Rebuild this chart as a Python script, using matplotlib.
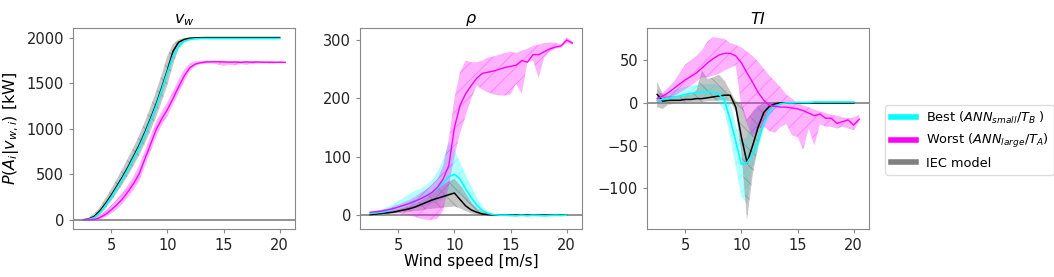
import numpy as np
import matplotlib
matplotlib.use("Agg")
import matplotlib.pyplot as plt
from matplotlib.lines import Line2D

nan = np.nan
wind = [2.5, 3, 3.5, 4, 4.5, 5, 5.5, 6, 6.5, 7, 7.5, 8, 8.5, 9, 9.5, 10, 10.5, 11, 11.5, 12,
        12.5, 13, 13.5, 14, 14.5, 15, 15.5, 16, 16.5, 17, 17.5, 18, 18.5, 19, 19.5, 20, 20.5]

# ---- panel v_w ----
vw_iec = [0, 10, 40, 100, 180, 270, 370, 470, 580, 700, 820, 960, 1110, 1270, 1450, 1640, 1850, 1950, 1980, 1993,
          1997, 1999, 2000, 2000, 2000, 2000, 2000, 2000, 2000, 2000, 2000, 2000, 2000, 2000, 2000, 2000, nan]
vw_iec_lo = [0, 0, 15, 60, 130, 210, 300, 390, 490, 600, 710, 840, 980, 1130, 1300, 1480, 1700, 1880, 1950, 1980,
             1990, 1994, 1995, 1995, 1995, 1995, 1995, 1995, 1995, 1995, 1995, 1995, 1995, 1995, 1995, 1995, nan]
vw_iec_hi = [5, 25, 70, 140, 240, 340, 450, 560, 680, 800, 930, 1080, 1240, 1410, 1600, 1800, 1930, 1980, 1995, 2003,
             2005, 2005, 2005, 2005, 2005, 2005, 2005, 2005, 2005, 2005, 2005, 2005, 2005, 2005, 2005, 2005, nan]
vw_best = [0, 5, 25, 80, 160, 250, 350, 450, 560, 680, 800, 940, 1090, 1250, 1430, 1620, 1800, 1910, 1960, 1980,
           1987, 1990, 1990, 1990, 1990, 1990, 1990, 1990, 1990, 1990, 1990, 1990, 1990, 1990, 1990, 1990, nan]
vw_best_lo = [0, 0, 10, 55, 125, 210, 305, 400, 505, 620, 740, 875, 1020, 1180, 1360, 1550, 1740, 1870, 1940, 1970,
              1980, 1984, 1985, 1985, 1985, 1985, 1985, 1985, 1985, 1985, 1985, 1985, 1985, 1985, 1985, 1985, nan]
vw_best_hi = [3, 15, 45, 105, 195, 290, 395, 500, 615, 740, 860, 1005, 1160, 1320, 1500, 1690, 1860, 1950, 1980, 1990,
              1994, 1995, 1995, 1995, 1995, 1995, 1995, 1995, 1995, 1995, 1995, 1995, 1995, 1995, 1995, 1995, nan]
vw_worst = [0, 0, 5, 25, 60, 110, 165, 230, 310, 400, 510, 670, 830, 990, 1110, 1210, 1330, 1460, 1580, 1670,
            1710, 1725, 1733, 1735, 1735, 1733, 1730, 1732, 1728, 1733, 1730, 1732, 1730, 1730, 1728, 1730, 1728]
vw_worst_lo = [0, 0, 0, 5, 30, 70, 115, 175, 250, 330, 430, 590, 750, 910, 1040, 1140, 1260, 1390, 1520, 1630,
               1690, 1710, 1715, 1715, 1705, 1690, 1700, 1695, 1710, 1700, 1712, 1715, 1715, 1715, 1715, 1718, 1718]
vw_worst_hi = [0, 5, 20, 55, 100, 160, 225, 300, 385, 480, 600, 760, 920, 1080, 1190, 1290, 1410, 1540, 1650, 1720,
               1740, 1745, 1748, 1748, 1745, 1745, 1742, 1745, 1740, 1745, 1742, 1742, 1740, 1740, 1738, 1740, 1735]

# ---- panel rho ----
rho_iec = [1, 2, 3, 4, 5, 7, 9, 11, 14, 18, 22, 26, 29, 32, 35, 38, 27, 16, 9, 5,
           2, 1, 0.5, 0, 0, 0, 0, 0, 0, 0, 0, 0, 0, 0, 0, 0, nan]
rho_iec_lo = [0, 0, 1, 2, 3, 4, 5, 6, 7, 8, 10, 11, 12, 13, 14, 15, 12, 7, 3, 1,
              0, 0, 0, 0, 0, 0, 0, 0, 0, 0, 0, 0, 0, 0, 0, 0, nan]
rho_iec_hi = [2, 3, 5, 6, 8, 10, 13, 16, 20, 25, 30, 38, 45, 52, 58, 62, 52, 38, 22, 12,
              6, 3, 1, 0.5, 0.3, 0.3, 0.3, 0.3, 0.3, 0.3, 0.3, 0.3, 0.3, 0.3, 0.3, 0.3, nan]
rho_best = [3, 4, 5, 7, 10, 14, 17, 21, 25, 29, 34, 39, 46, 55, 66, 70, 62, 45, 30, 17,
            8, 3, 1, 0, 0, -0.5, -1, 0, -1, 0, -0.5, -1, -0.5, 0, -0.5, 0, nan]
rho_best_lo = [0, 1, 2, 3, 4, 6, 8, 10, 12, 14, 17, 20, 23, 28, 35, 40, 35, 25, 15, 7,
               2, 0, 0, -1, -1, -2, -2, -1, -2, -1, -2, -2, -2, -1, -2, -1, nan]
rho_best_hi = [5, 7, 10, 14, 18, 24, 30, 36, 42, 45, 52, 60, 75, 95, 125, 112, 90, 70, 50, 30,
               15, 6, 2, 0.5, 0.5, 0.5, 0.5, 0.5, 0.5, 0.5, 0.5, 0.5, 0.5, 0.5, 0.5, 0.5, nan]
rho_worst = [5, 6, 7, 9, 11, 14, 17, 20, 24, 28, 33, 39, 48, 62, 85, 150, 188, 208, 222, 235,
             243, 245, 247, 250, 253, 255, 257, 265, 262, 275, 275, 280, 285, 288, 290, 300, 295]
rho_worst_lo = [2, 2, 3, 3, 3, 3, 2, 0, -3, -6, -8, -8, -6, 8, 50, 100, 140, 170, 200, 222,
                215, 210, 207, 205, 205, 207, 225, 208, 262, 265, 235, 270, 280, 285, 287, 295, 292]
rho_worst_hi = [5, 7, 9, 11, 14, 18, 22, 26, 32, 38, 44, 52, 62, 85, 130, 200, 245, 265, 262, 262,
                265, 270, 272, 275, 278, 280, 278, 282, 285, 290, 292, 295, 296, 295, 292, 305, 298]

# ---- panel TI ----
ti_iec = [10, 2, 3, 3, 3, 4, 4, 5, 5, 6, 7, 8, 9, 9, -5, -40, -70, -50, -28, -11,
          -4, -1, 0, 0, 0, 0, 0, 0, 0, 0, 0, 0, 0, 0, 0, 0, nan]
ti_iec_lo = [-5, -7, -2, -1, 0, 0, 1, 1, 1, 2, 2, 3, 3, 2, -10, -60, -137, -85, -50, -22,
             -8, -3, -1, -0.5, 0, 0, 0, 0, 0, 0, 0, 0, 0, 0, 0, 0, nan]
ti_iec_hi = [25, 10, 8, 8, 8, 9, 10, 15, 38, 28, 30, 33, 26, 14, 2, 0, -20, -10, -3, -1,
             0, 0, 0.5, 0.5, 0.5, 0.5, 0.5, 0.5, 0.5, 0.5, 0.5, 0.5, 0.5, 0.5, 0.5, 0.5, nan]
ti_best = [3, 4, 5, 7, 8, 10, 11, 12, 13, 13, 12, 10, 3, -20, -45, -72, -70, -60, -45, -24,
           -10, -4, -1, 0, 0, 0.5, 0.5, 0.5, 1, 1, 1, 1, 1, 1, 1, 1, nan]
ti_best_lo = [0, 0, 1, 2, 3, 4, 5, 6, 7, 7, 5, 0, -10, -40, -75, -110, -118, -75, -55, -30,
              -15, -6, -2, -1, -0.5, 0, 0, 0, 0.5, 0.5, 0.5, 0.5, 0.5, 0.5, 0.5, 0.5, nan]
ti_best_hi = [8, 10, 12, 15, 17, 19, 20, 21, 22, 22, 22, 20, 15, 0, -25, -45, -40, -15, -8, -3,
              -1, 0, 0, 0.5, 1, 1, 1, 1, 1.5, 1.5, 1.5, 1.5, 1.5, 1.5, 1.5, 1.5, nan]
ti_worst = [5, 8, 12, 17, 22, 27, 31, 35, 41, 47, 52, 56, 58, 58, 55, 47, 35, 24, 12, 3,
            -3, -4, -5, -5, -6, -7, -9, -12, -15, -13, -18, -18, -24, -22, -20, -26, -19]
ti_worst_lo = [0, 2, 5, 8, 12, 16, 20, 25, 30, 30, 32, 34, 38, 41, 44, -5, -25, -40, -30, -28,
               -33, -35, -28, -25, -38, -40, -55, -30, -50, -25, -28, -28, -30, -28, -30, -32, -22]
ti_worst_hi = [10, 12, 18, 25, 35, 45, 50, 55, 62, 72, 77, 76, 75, 70, 68, 65, 60, 55, 48, 40,
               32, 25, 18, 10, 5, 0, -3, -5, -8, -10, -12, -14, -15, -17, -18, -17, -14]

titles = ['$v_w$', r'$\rho$', '$TI$']
labels = [r'Best ($ANN_{small}/T_B$ )', r'Worst ($ANN_{large}/T_A$)', 'IEC model']

panels = [
    (vw_iec, vw_iec_lo, vw_iec_hi, vw_best, vw_best_lo, vw_best_hi, vw_worst, vw_worst_lo, vw_worst_hi),
    (rho_iec, rho_iec_lo, rho_iec_hi, rho_best, rho_best_lo, rho_best_hi, rho_worst, rho_worst_lo, rho_worst_hi),
    (ti_iec, ti_iec_lo, ti_iec_hi, ti_best, ti_best_lo, ti_best_hi, ti_worst, ti_worst_lo, ti_worst_hi),
]

plt.rcParams['hatch.linewidth'] = 0.6
fig = plt.figure(figsize=(10.54, 2.77), dpi=100)
lefts = [0.0693, 0.3416, 0.6139]
x = np.array(wind)
for i, (iec, iec_lo, iec_hi, best, best_lo, best_hi, worst, worst_lo, worst_hi) in enumerate(panels):
    ax = fig.add_axes([lefts[i], 0.1733, 0.2110, 0.7256])
    ax.axhline(0, color='gray', lw=1.2, zorder=0)
    ax.fill_between(x, best_lo, best_hi, facecolor='cyan', edgecolor='cyan', alpha=0.3, hatch='//', lw=0)
    ax.fill_between(x, iec_lo, iec_hi, facecolor='gray', edgecolor='dimgray', alpha=0.45, hatch='\\\\', lw=0)
    ax.fill_between(x, worst_lo, worst_hi, facecolor='magenta', edgecolor='magenta', alpha=0.3, hatch='//', lw=0)
    ax.plot(x, iec, color='black', lw=1.1)
    ax.plot(x, best, color='cyan', lw=1.2)
    ax.plot(x, worst, color='magenta', lw=1.0)
    ax.set_title(titles[i], fontsize=11.5, pad=3)
    ax.set_xticks([5, 10, 15, 20])
    ax.tick_params(labelsize=10.5, colors='#222222', length=3)
    for sp in ax.spines.values():
        sp.set_color('#888888')
    ax.tick_params(axis='both', color='#888888')
    if i == 0:
        ax.set_ylabel(r'$P(A_i|v_{w,i})$ [kW]', fontsize=11.5)
        ax.set_yticks([0, 500, 1000, 1500, 2000])
    if i == 1:
        ax.set_xlabel('Wind speed [m/s]', fontsize=11, labelpad=1)
        ax.set_yticks([0, 100, 200, 300])
    if i == 2:
        ax.set_yticks([-100, -50, 0, 50])

handles = [Line2D([], [], color='cyan', lw=4),
           Line2D([], [], color='magenta', lw=4),
           Line2D([], [], color='gray', lw=4)]
fig.legend(handles, labels, loc='center left', bbox_to_anchor=(0.834, 0.495), fontsize=9.3,
           handlelength=2.0, handletextpad=0.7, borderpad=0.4, framealpha=1, edgecolor='#dddddd')

fig.savefig('out.png', dpi=100)
